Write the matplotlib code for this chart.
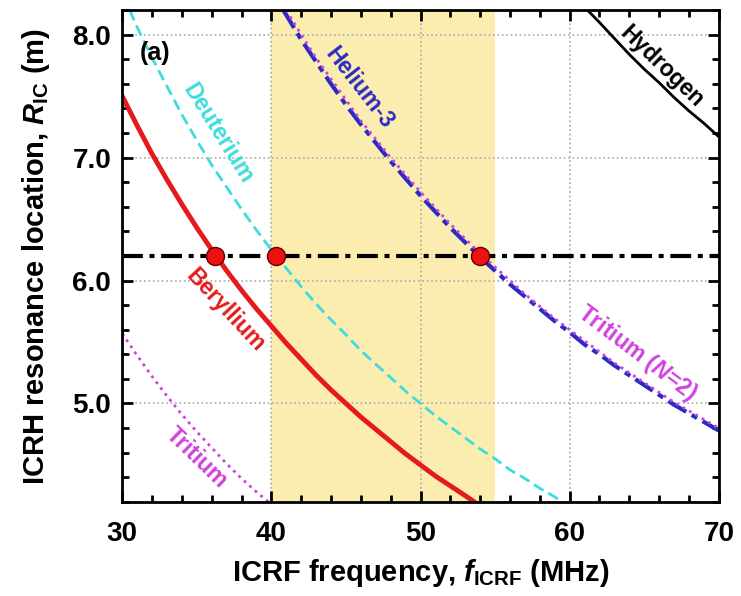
import numpy as np
import matplotlib
matplotlib.use('Agg')
import matplotlib.pyplot as plt
from matplotlib.ticker import MultipleLocator, FormatStrFormatter

plt.rcParams['font.family'] = ['Liberation Sans', 'DejaVu Sans']
plt.rcParams['mathtext.fontset'] = 'custom'
plt.rcParams['mathtext.rm'] = 'Liberation Sans:bold'
plt.rcParams['mathtext.it'] = 'Liberation Sans:bold:italic'
plt.rcParams['mathtext.bf'] = 'Liberation Sans:bold'

# curves: frequency (MHz) vs resonance radius (m)
f_be = [30, 31, 32, 33, 34, 35, 36, 37, 38, 39, 40, 41, 42, 43, 44, 45, 46, 47,
        48, 49, 50, 51, 52, 53, 53.6]
r_be = [7.50, 7.26, 7.03, 6.82, 6.62, 6.43, 6.25, 6.08, 5.92, 5.77, 5.63, 5.49,
        5.36, 5.23, 5.11, 5.00, 4.89, 4.79, 4.69, 4.59, 4.50, 4.41, 4.33, 4.25, 4.20]

f_d = [30.5, 31, 32, 33, 34, 35, 36, 37, 38, 39, 40, 41, 42, 43, 44, 45, 46, 47,
       48, 49, 50, 51, 52, 53, 54, 55, 56, 57, 58, 59, 59.5]
r_d = [8.20, 8.06, 7.81, 7.58, 7.35, 7.14, 6.94, 6.76, 6.58, 6.41, 6.25, 6.10,
       5.95, 5.81, 5.68, 5.56, 5.43, 5.32, 5.21, 5.10, 5.00, 4.90, 4.81, 4.72,
       4.63, 4.55, 4.46, 4.39, 4.31, 4.24, 4.20]

f_he3 = [40.8, 41, 42, 43, 44, 45, 46, 47, 48, 49, 50, 51, 52, 53, 54, 55, 56,
         57, 58, 59, 60, 61, 62, 63, 64, 65, 66, 67, 68, 69, 70]
r_he3 = [8.20, 8.16, 7.96, 7.78, 7.60, 7.43, 7.27, 7.12, 6.97, 6.83, 6.69, 6.56,
         6.43, 6.31, 6.19, 6.08, 5.97, 5.87, 5.77, 5.67, 5.58, 5.48, 5.40, 5.31,
         5.23, 5.15, 5.07, 4.99, 4.92, 4.85, 4.78]

f_t2 = [41.0, 42, 43, 44, 45, 46, 47, 48, 49, 50, 51, 52, 53, 54, 55, 56, 57,
        58, 59, 60, 61, 62, 63, 64, 65, 66, 67, 68, 69, 70]
r_t2 = [8.20, 8.00, 7.81, 7.64, 7.47, 7.30, 7.15, 7.00, 6.86, 6.72, 6.59, 6.46,
        6.34, 6.22, 6.11, 6.00, 5.89, 5.79, 5.69, 5.60, 5.51, 5.42, 5.33, 5.25,
        5.17, 5.09, 5.01, 4.94, 4.87, 4.80]

f_h = [61.2, 62, 63, 64, 65, 66, 67, 68, 69, 70]
r_h = [8.20, 8.10, 7.97, 7.84, 7.72, 7.61, 7.49, 7.38, 7.28, 7.17]

f_t = [30, 31, 32, 33, 34, 35, 36, 37, 38, 39, 39.8]
r_t = [5.57, 5.39, 5.22, 5.06, 4.91, 4.77, 4.64, 4.51, 4.39, 4.28, 4.20]

r_target = 6.2
f_res = [36.2, 40.3, 54.0]
band = [40, 55]

fig = plt.figure(figsize=(7.41, 5.96), dpi=100)
ax = fig.add_axes([0.165, 0.158, 0.805, 0.825])

ax.axvspan(band[0], band[1], color='#fbedb0', zorder=0, lw=0)

ax.plot(f_t, r_t, color='#d040d8', ls=':', lw=2)
ax.plot(f_be, r_be, color='#e41a1c', ls='-', lw=3.5)
ax.plot(f_d, r_d, color='#3edcdc', ls=(0, (4, 2)), lw=2)
ax.plot(f_he3, r_he3, color='#2a2ac4', ls=(0, (5, 1.5, 1.5, 1.5)), lw=3)
ax.plot(f_t2, r_t2, color='#d040e0', ls=':', lw=2)
ax.plot(f_h, r_h, color='black', ls='-', lw=2)

ax.axhline(r_target, color='black', ls=(0, (5, 1.6, 1.2, 1.6)), lw=3, zorder=3)
ax.plot(f_res, [r_target] * len(f_res), 'o', ms=13, color='#ee1111',
        mec='#600000', mew=1, zorder=5)

ax.set_xlim(30, 70)
ax.set_ylim(4.2, 8.2)
ax.xaxis.set_major_locator(MultipleLocator(10))
ax.xaxis.set_minor_locator(MultipleLocator(2))
ax.yaxis.set_major_locator(MultipleLocator(1.0))
ax.yaxis.set_minor_locator(MultipleLocator(0.2))
ax.yaxis.set_major_formatter(FormatStrFormatter('%.1f'))
ax.tick_params(which='both', direction='in', top=True, right=True, width=2)
ax.tick_params(which='major', length=8, labelsize=20)
ax.tick_params(axis='x', which='major', pad=14)
ax.tick_params(axis='y', which='major', pad=8)
ax.tick_params(which='minor', length=5)
for lbl in ax.get_xticklabels() + ax.get_yticklabels():
    lbl.set_fontweight('bold')
for s in ax.spines.values():
    s.set_linewidth(2)
ax.grid(True, which='major', color='#aaaaaa', ls=':', lw=1.2)

ax.set_xlabel(r'ICRF frequency, $\mathit{f}_{\rm ICRF}$ (MHz)', fontsize=21,
              fontweight='bold', labelpad=7)
ax.set_ylabel(r'ICRH resonance location, $\mathit{R}_{\rm IC}$ (m)', fontsize=21,
              fontweight='bold', labelpad=15)

ax.text(32.2, 7.85, '(a)', fontsize=18, fontweight='bold', ha='center', va='center')
lab = dict(fontsize=16.5, fontweight='bold', ha='center', va='center',
           rotation_mode='anchor')
ax.text(36.4, 7.2, 'Deuterium', color='#3edcdc', rotation=-58, **lab)
ax.text(36.9, 5.76, 'Beryllium', color='#e41a1c', rotation=-47, **lab)
ax.text(35.0, 4.56, 'Tritium', color='#d040d8', rotation=-44, **lab)
ax.text(45.9, 7.57, 'Helium-3', color='#2a2ac4', rotation=-52, **lab)
ax.text(66.2, 7.74, 'Hydrogen', color='black', rotation=-44, **lab)
ax.text(64.5, 5.41, r'Tritium ($\mathit{N}$=2)', color='#d040e0', rotation=-37, **lab)

plt.savefig('out.png', dpi=100)
